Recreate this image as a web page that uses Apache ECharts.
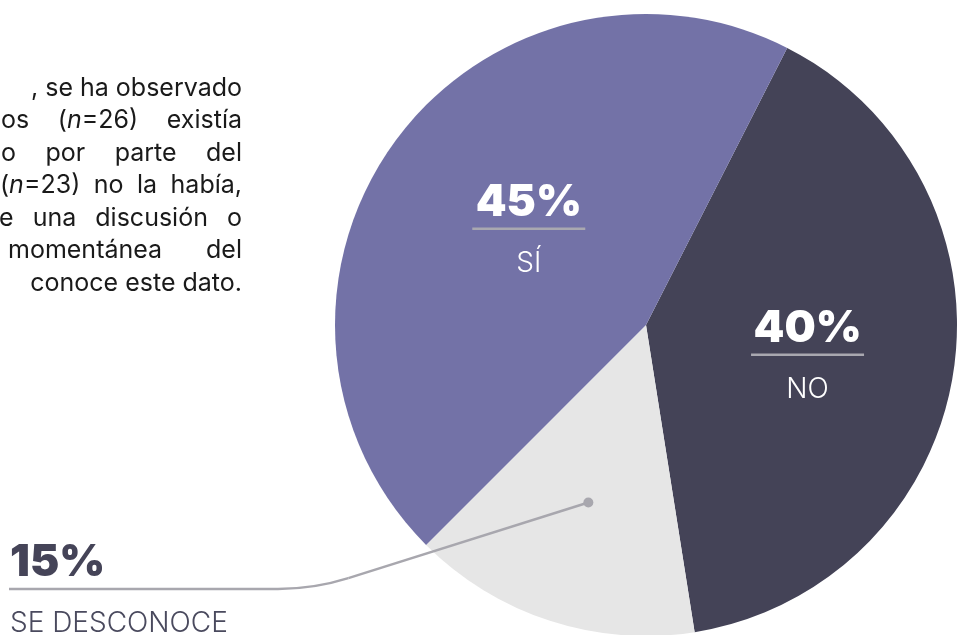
<!DOCTYPE html>
<html>
<head>
<meta charset="utf-8">
<style>
html, body { margin: 0; padding: 0; background: #fff; }
#grafico { width: 961px; height: 635px; }
</style>
<script src="https://cdn.jsdelivr.net/npm/echarts@6/dist/echarts.min.js"></script>
</head>
<body>
<div id="grafico"></div>
<script>
// datos (orden en sentido horario desde arriba)
var categorias = ['NO', 'SE DESCONOCE', 'SÍ'];
var valores = [40, 15, 45];
var etiquetas = ['40%', '15%', '45%'];
var colores = ['#444357', '#e6e6e6', '#7372a7'];

// texto del parrafo (cortado por la izquierda en el original)
var parrafo = [
    ', se ha observado',
    'os ({i|n}=26) existía',
    'o por parte del',
    '({i|n}=23) no la había,',
    'e una discusión o',
    'momentánea del',
    'conoce este dato.'
];
// null = alineada a la derecha sin justificar
var inicioLinea = [null, 1, 1, 0, -1, 8, null];

var cx = 646, cy = 325, radio = 311, anguloInicio = 63;
var fuente = 'Inter';
var tamTexto = 25;

var chart = echarts.init(document.getElementById('grafico'));

// medir palabras para justificar
var ctx = document.createElement('canvas').getContext('2d');
ctx.font = tamTexto + 'px ' + fuente;
function ancho(t) {
    return ctx.measureText(t.replace(/\{i\|(.*?)\}/g, '$1')).width;
}

var elementos = [];
parrafo.forEach(function(linea, k) {
    var y = 88 + k * 32.5;
    var estilo = {
        fill: '#1a1a1a',
        fontSize: tamTexto,
        fontFamily: fuente,
        verticalAlign: 'middle',
        rich: { i: { fontStyle: 'italic', fontSize: tamTexto, fontFamily: fuente, fill: '#1a1a1a' } }
    };
    if (inicioLinea[k] == null) {
        elementos.push({ type: 'text', x: 242, y: y, style: Object.assign({ text: linea, align: 'right' }, estilo) });
        return;
    }
    var palabras = linea.split(' ');
    var total = 0;
    palabras.forEach(function(p) { total += ancho(p); });
    var hueco = (242 - inicioLinea[k] - total) / (palabras.length - 1);
    var x = inicioLinea[k];
    palabras.forEach(function(p) {
        elementos.push({ type: 'text', x: x, y: y, style: Object.assign({ text: p, align: 'left' }, estilo) });
        x += ancho(p) + hueco;
    });
});

// conector: sale de la mitad del sector "SE DESCONOCE" (60% del radio)
var suma = valores.reduce(function(a, b) { return a + b; }, 0);
var angMedio = (anguloInicio - (valores[0] + valores[1] / 2) / suma * 360) * Math.PI / 180;
var puntoX = cx + radio * 0.6 * Math.cos(angMedio);
var puntoY = cy - radio * 0.6 * Math.sin(angMedio);
var lineaY = 589, codoX = 314, finX = 9, curva = 36;
var largo = Math.sqrt(Math.pow(codoX - puntoX, 2) + Math.pow(lineaY - puntoY, 2));
var aX = codoX + (puntoX - codoX) * curva / largo;
var aY = lineaY + (puntoY - lineaY) * curva / largo;
var trazo = { stroke: '#a8a7ae', lineWidth: 2.5, fill: null };

elementos.push(
    { type: 'line', z: 100, shape: { x1: puntoX, y1: puntoY, x2: aX, y2: aY }, style: trazo },
    { type: 'bezierCurve', z: 100, shape: { x1: aX, y1: aY, x2: codoX - curva, y2: lineaY, cpx1: codoX, cpy1: lineaY }, style: trazo },
    { type: 'line', z: 100, shape: { x1: codoX - curva, y1: lineaY, x2: finX, y2: lineaY }, style: trazo },
    { type: 'circle', z: 101, shape: { cx: puntoX, cy: puntoY, r: 5 }, style: { fill: '#a8a7ae' } }
);

var option = {
    backgroundColor: '#fff',
    animation: false,
    graphic: elementos,
    series: [{
        type: 'pie',
        center: [cx, cy],
        radius: radio,
        startAngle: anguloInicio,
        clockwise: true,
        silent: true,
        avoidLabelOverlap: false,
        label: {
            position: 'inside',
            formatter: function(p) {
                if (p.dataIndex === 1) {
                    return '{pct2|' + etiquetas[1] + '}\n{sp|}\n{name2|' + p.name + '}';
                }
                return '{pct|' + etiquetas[p.dataIndex] + '}\n{hr|}\n{name|' + p.name + '}';
            },
            rich: {
                pct: { fontSize: 44, fontWeight: 900, fontFamily: fuente, color: '#fff', lineHeight: 52 },
                hr: { width: 113, height: 0, lineHeight: 0, borderColor: '#a9a8b0', borderWidth: 2.5 },
                name: { fontSize: 28, fontWeight: 300, fontFamily: fuente, color: '#fff', lineHeight: 70 },
                pct2: { fontSize: 44, fontWeight: 900, fontFamily: fuente, color: '#454458', lineHeight: 52, align: 'left' },
                sp: { width: 10, height: 0, lineHeight: 0 },
                name2: { fontSize: 28, fontWeight: 300, fontFamily: fuente, color: '#4a4a5e', lineHeight: 70, align: 'left' }
            }
        },
        labelLine: { show: false },
        labelLayout: function(p) {
            if (p.dataIndex === 1) {
                return { x: finX + 1, y: lineaY + 9, align: 'left', verticalAlign: 'middle' };
            }
            if (p.dataIndex === 2) return { dx: 11, dy: 6 };
            return { dx: 5, dy: 14 };
        },
        data: categorias.map(function(c, i) {
            var item = { name: c, value: valores[i], itemStyle: { color: colores[i] } };
            if (i === 1) item.label = { position: 'outside' };
            return item;
        })
    }]
};
chart.setOption(option);
</script>
</body>
</html>
